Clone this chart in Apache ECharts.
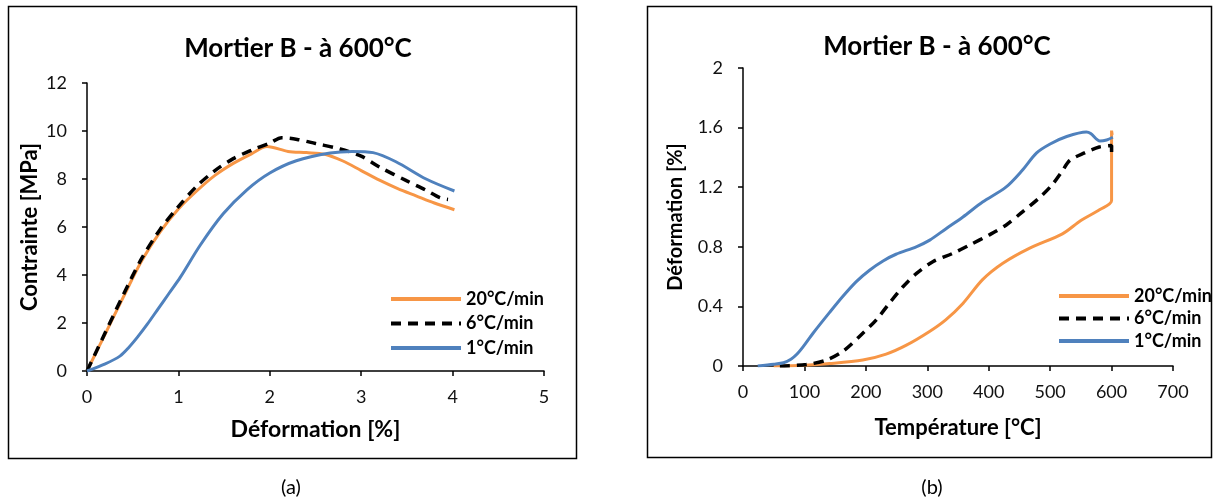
<!DOCTYPE html>
<html><head><meta charset="utf-8">
<script src="https://cdn.jsdelivr.net/npm/echarts@6/dist/echarts.min.js"></script>
<style>html,body{margin:0;padding:0;background:#fff}#c{width:1217px;height:504px}</style>
</head><body><div id="c"></div>
<script>
// Titles / names
const chartTitle = 'Mortier B - à 600°C';
const panelLabels = ['(a)', '(b)'];
const seriesNames = ['20°C/min', '6°C/min', '1°C/min'];
// Panel (a): stress-strain  [déformation %, contrainte MPa]
const a20 = [[0,0],[0.2,1.55],[0.4,3.1],[0.6,4.6],[0.8,5.8],[1.0,6.75],[1.2,7.5],[1.4,8.15],[1.6,8.65],[1.8,9.05],[1.97,9.35],[2.2,9.15],[2.4,9.1],[2.6,9.03],[2.8,8.75],[3.0,8.35],[3.2,7.95],[3.4,7.6],[3.6,7.3],[3.8,7.0],[4.02,6.72]];
const a6 = [[0,0],[0.2,1.6],[0.4,3.2],[0.6,4.7],[0.8,5.9],[1.0,6.85],[1.2,7.7],[1.4,8.35],[1.6,8.85],[1.8,9.2],[2.0,9.5],[2.13,9.72],[2.3,9.65],[2.5,9.48],[2.77,9.25],[3.0,8.95],[3.2,8.5],[3.5,7.92],[3.7,7.55],[3.86,7.22],[3.95,7.15]];
const a1 = [[0,0],[0.2,0.3],[0.36,0.62],[0.45,0.95],[0.55,1.4],[0.66,1.95],[0.78,2.6],[0.9,3.25],[1.02,3.9],[1.24,5.25],[1.49,6.55],[1.75,7.55],[2.0,8.25],[2.29,8.76],[2.66,9.08],[2.9,9.15],[3.13,9.1],[3.38,8.72],[3.71,8.0],[4.02,7.5]];
// Panel (b): strain-temperature  [température °C, déformation %]
const b20 = [[50,0],[100,0.005],[141,0.016],[195,0.04],[233,0.08],[266,0.14],[303,0.23],[330,0.31],[358,0.42],[390,0.58],[423,0.69],[466,0.79],[520,0.887],[550,0.977],[581,1.05],[600,1.11],[600,1.58],[601,1.55]];
const b6 = [[60,0],[103,0.01],[136,0.04],[163,0.1],[195,0.22],[217,0.31],[238,0.42],[260,0.53],[282,0.62],[309,0.7],[341,0.755],[368,0.81],[401,0.88],[428,0.945],[455,1.035],[480,1.12],[502,1.21],[520,1.31],[532,1.38],[556,1.43],[580,1.47],[600,1.48],[600,1.43]];
const b1 = [[24,0],[50,0.012],[66,0.022],[78,0.045],[88,0.08],[98,0.13],[114,0.22],[141,0.36],[163,0.47],[184,0.565],[206,0.643],[228,0.705],[249,0.75],[282,0.8],[304,0.845],[330,0.92],[358,1.0],[390,1.1],[428,1.2],[454,1.31],[478,1.43],[500,1.49],[527,1.54],[559,1.57],[566,1.56],[581,1.51],[592,1.517],[602,1.535]];
// Axis tick definitions
const aX = {min:0, max:5, interval:1};
const aY = {min:0, max:12, interval:2};
const bX = {min:0, max:700, interval:100};
const bY = {min:0, max:2, interval:0.4};

const FONT = 'Lato, "Open Sans", sans-serif';
const colors = ['#F79646', '#000000', '#4F81BD'];

function axisBase(o, name, nameGap, nameSize, margin) {
  return Object.assign({
    type:'value', name:name, nameLocation:'middle', nameGap:nameGap,
    nameTextStyle:{fontFamily:FONT, fontWeight:'bold', fontSize:nameSize, color:'#000'},
    axisLine:{show:true, onZero:false, lineStyle:{color:'#000', width:1.5}},
    axisTick:{show:true, inside:false, length:5, lineStyle:{color:'#000', width:1.5}},
    axisLabel:{fontFamily:FONT, fontSize:18, color:'#111', margin:margin},
    splitLine:{show:false}
  }, o);
}
function mkSeries(name, data, xi, color, dashed) {
  return {
    name:name, type:'line', xAxisIndex:xi, yAxisIndex:xi, data:data,
    symbol:'none', showSymbol:false, smooth:0.3, animation:false,
    lineStyle:{color:color, width: dashed ? 3.5 : 3, type: dashed ? [10,7] : 'solid', cap:'butt'},
    itemStyle:{color:color}
  };
}
const legendText = {fontFamily:FONT, fontWeight:'bold', fontSize:18, color:'#000'};
const titleText = {fontFamily:FONT, fontWeight:'bold', fontSize:26, color:'#000'};
const panelText = {fontFamily:FONT, fontWeight:'normal', fontSize:20, color:'#000'};

const chart = echarts.init(document.getElementById('c'), null, {renderer:'canvas'});
chart.setOption({
  animation:false,
  backgroundColor:'#fff',
  title:[
    {text:chartTitle, left:293, top:31, textAlign:'center', textStyle:titleText},
    {text:chartTitle, left:932, top:29, textAlign:'center', textStyle:titleText},
    {text:panelLabels[0], left:291, top:478, textAlign:'center', textStyle:panelText, padding:0},
    {text:panelLabels[1], left:932, top:478, textAlign:'center', textStyle:panelText, padding:0}
  ],
  grid:[
    {left:87, top:83, width:457, height:288, containLabel:false},
    {left:743, top:68, width:430, height:298, containLabel:false}
  ],
  xAxis:[
    axisBase({gridIndex:0, min:aX.min, max:aX.max, interval:aX.interval}, 'Déformation [%]', 47, 23, 17),
    axisBase({gridIndex:1, min:bX.min, max:bX.max, interval:bX.interval}, 'Température [°C]', 51, 22, 17)
  ],
  yAxis:[
    axisBase({gridIndex:0, min:aY.min, max:aY.max, interval:aY.interval}, 'Contrainte [MPa]', 46, 22, 20),
    axisBase({gridIndex:1, min:bY.min, max:bY.max, interval:bY.interval}, 'Déformation [%]', 57, 20, 20)
  ],
  legend:[
    {data:seriesNames, orient:'vertical', left:384, top:285, itemWidth:70, itemHeight:14, itemGap:6.5,
     itemStyle:{opacity:0}, lineStyle:{width:4}, textStyle:legendText, selectedMode:false},
    {data:seriesNames, orient:'vertical', left:1052, top:282, itemWidth:70, itemHeight:14, itemGap:4.5,
     itemStyle:{opacity:0}, lineStyle:{width:4}, textStyle:legendText, selectedMode:false}
  ],
  graphic:[
    {type:'rect', shape:{x:8.5, y:6.5, width:568, height:452}, style:{fill:null, stroke:'#000', lineWidth:1.5}, silent:true},
    {type:'rect', shape:{x:647.5, y:6.5, width:564, height:451}, style:{fill:null, stroke:'#000', lineWidth:1.5}, silent:true}
  ],
  series:[
    mkSeries(seriesNames[0], a20, 0, colors[0], false),
    mkSeries(seriesNames[1], a6, 0, colors[1], true),
    mkSeries(seriesNames[2], a1, 0, colors[2], false),
    mkSeries(seriesNames[0], b20, 1, colors[0], false),
    mkSeries(seriesNames[1], b6, 1, colors[1], true),
    mkSeries(seriesNames[2], b1, 1, colors[2], false)
  ]
});
</script>
</body></html>
